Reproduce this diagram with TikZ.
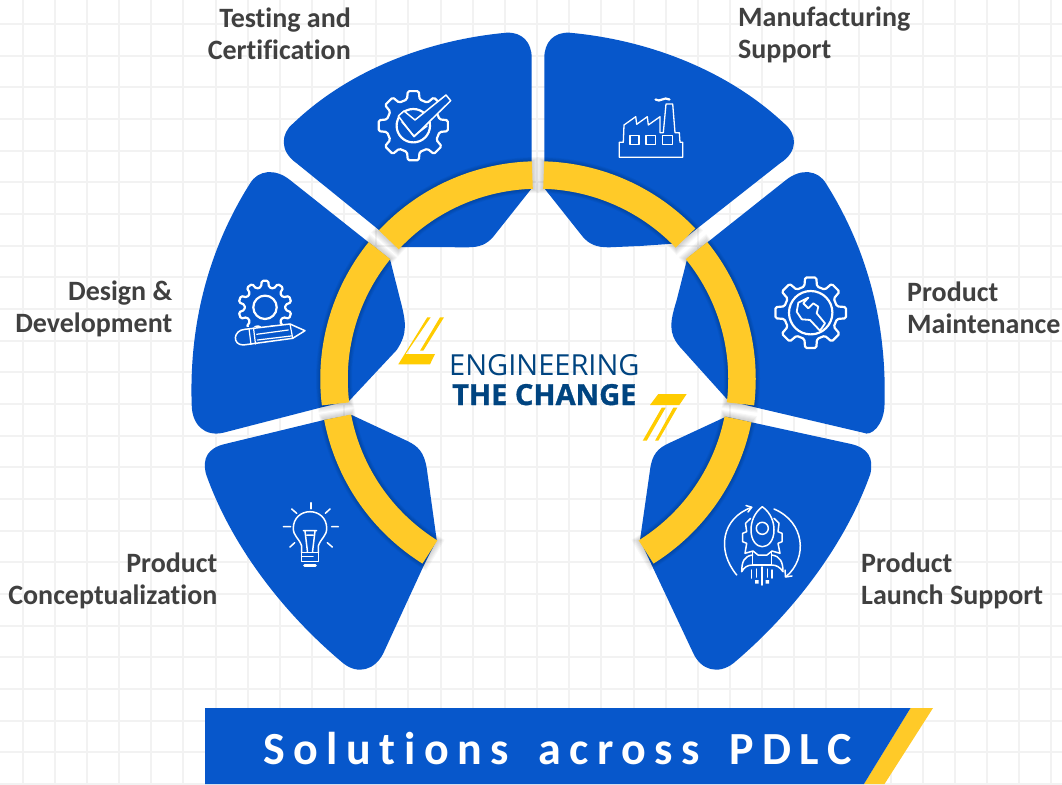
\documentclass[tikz,border=0pt]{standalone}
\usepackage{fontspec}
\setmainfont[Ligatures=NoCommon]{Carlito}
\newfontfamily\logofont{Open Sans}
\newfontfamily\logobold[FakeBold=1.1]{Open Sans Bold}
\newfontfamily\titlefont[LetterSpace=18.5,WordSpace=1.55,Ligatures=NoCommon]{Carlito Bold}
\definecolor{pdlcblue}{HTML}{0757CB}
\definecolor{ringyellow}{HTML}{FFCA28}
\definecolor{logoyellow}{HTML}{FFCC00}
\definecolor{logonavy}{HTML}{004480}
\definecolor{labelgray}{HTML}{404040}
\definecolor{gridgray}{HTML}{F2F2F2}
\newcommand{\ringshadow}[2]{%
  \foreach \w/\e in {36/1.8,34.5/1.5,33/1.2,31.5/0.9,30/0.6,28.5/0.3}{%
    \draw[black,opacity=0.03,line width=\w pt] plot[domain=#1-\e:#2+\e,samples=40] ({204*cos(\x)},{204*sin(\x)});}}
\newcommand{\ringseg}[2]{%
  \draw[ringyellow,line width=27.5pt] plot[domain=#1:#2,samples=40] ({204*cos(\x)},{204*sin(\x)});}
\newcommand{\geardraw}[4]{% teeth, outer r, inner r, start angle
  \pgfmathsetmacro{\gs}{360/#1}
  \draw[iconthick,rounded corners=1.5pt] ({#4-0.30*\gs}:#3) \foreach \i in {1,...,#1}{
    -- ({#4+(\i-1)*\gs-0.2*\gs}:#2) -- ({#4+(\i-1)*\gs+0.2*\gs}:#2) -- ({#4+(\i-1)*\gs+0.30*\gs}:#3) -- ({#4+(\i-1)*\gs+0.70*\gs}:#3)
  } -- cycle;}
\tikzset{
  lobe/.style={fill=pdlcblue,draw=none},
  icon/.style={draw=white,line width=1.5pt,line join=round,line cap=round},
  iconthick/.style={draw=white,line width=2.2pt,line join=round,line cap=round},
  lab/.style={font=\fontsize{28}{32}\selectfont\bfseries,text=labelgray,inner sep=0pt},
}
\begin{document}
\begin{tikzpicture}[x=1pt,y=-1pt]
\useasboundingbox (0,0) rectangle (1062,784);
\fill[white] (0,0) rectangle (1062,784);
% grid
\foreach \k in {-9,...,23} \draw[gridgray,line width=2pt] ({312+32.15*\k},0) -- ({312+32.15*\k},784);
\foreach \k in {-10,...,14} \draw[gridgray,line width=2pt] (0,{340.7+31.67*\k}) -- (1062,{340.7+31.67*\k});
% lobes
% Testing
\path[lobe] (531.7,188.3) -- (531.7,58) .. controls (531.7,42) and (522,32) .. (506.7,32.7)
  .. controls (429,39.7) and (349.5,69.5) .. (293.3,123.3)
  .. controls (281,133) and (279,151) .. (296.7,163.3) -- (400,247) -- (466.7,247.3)
  .. controls (480,247.5) and (487,244) .. (493.3,236.7) -- cycle;
% Manufacturing
\path[lobe] (544.3,188.3) -- (544.3,58) .. controls (544.3,42) and (554,32) .. (569.3,32.7)
  .. controls (647,39.7) and (726.5,69.5) .. (784,123.3)
  .. controls (797,134) and (799,151) .. (780,163.3) -- (678.3,243.3) -- (640,246)
  -- (609.3,247.3) .. controls (596,247.5) and (589,244) .. (582.7,236.7) -- cycle;
% Design
\path[lobe] (290,180) -- (390,259.3) -- (400.3,300)
  .. controls (406,322) and (408,333) .. (396.7,350) -- (349.3,400.7) -- (321.7,407.3) -- (223.3,432.7)
  .. controls (205,437) and (192,425) .. (191.7,405)
  .. controls (189,325) and (208,250) .. (250,183.5)
  .. controls (258,170) and (275,168) .. (290,180) -- cycle;
% Maintenance
\path[lobe] (786,180) -- (687.3,258.3) -- (676.7,300)
  .. controls (670,322) and (668,333) .. (680,347) -- (728.3,400.7) -- (755,407.3) -- (863.3,432.7)
  .. controls (871,437) and (884,425) .. (884.5,405)
  .. controls (887,325) and (868,250) .. (826,183.5)
  .. controls (818,170) and (801,168) .. (786,180) -- cycle;
% Conceptualization
\path[lobe] (351.7,415) -- (406.7,440.7) .. controls (418,446) and (424,452) .. (426.7,468)
  -- (436.7,540) -- (424,565) -- (383.3,653.3)
  .. controls (375,670) and (358,675) .. (343.3,663.3)
  .. controls (283,613) and (231,545) .. (206,474)
  .. controls (202,458) and (208,448) .. (225,444) -- (324,420) -- cycle;
% Launch
\path[lobe] (726,416.7) -- (670,442.7) .. controls (658,448) and (652,454) .. (650,470)
  -- (640,540) -- (651.7,565) -- (693.3,653.3)
  .. controls (701,670) and (718,675) .. (733.3,663.3)
  .. controls (793,613) and (845,545) .. (870.3,474)
  .. controls (874,458) and (868,448) .. (851,444) -- (753.3,422.7) -- cycle;
% ring
\begin{scope}[shift={(538,379)}]
\ringshadow{-187}{-141}
\ringshadow{-39}{7}
\ringshadow{122}{169.2}
\ringshadow{11.4}{58}
\ringshadow{-137}{-91.6}
\ringshadow{-88.4}{-43.7}
\ringseg{-187}{-141}
\ringseg{-39}{7}
\ringseg{122}{169.2}
\ringseg{11.4}{58}
\ringseg{-137}{-91.6}
\ringseg{-88.4}{-43.7}
\end{scope}
% Icon: testing
\begin{scope}[shift={(413.3,125.7)}]
\geardraw{8}{35}{27}{-90}
\draw[iconthick] (0,0) circle (16.7);
\end{scope}
\path[lobe] (398.3,116) -- (404,111) -- (415,120) -- (446,95) -- (450.7,100.7) -- (414,136.7) -- cycle;
\draw[icon] (398.3,116) -- (404,111) -- (415,120) -- (446,95) -- (450.7,100.7) -- (414,136.7) -- cycle;
\draw[icon] (402,122) -- (414,136) -- (427,126);
% Icon: factory
\draw[icon,line width=1.3pt] (619.3,157.3) -- (682.7,157.3) -- (682.7,142.3) -- (680,142.3) -- (679.3,132.7) -- (675,132.7) -- (672.7,104) -- (666,104) -- (663.3,132.7) -- (660,132.7) -- (660,116.7) -- (648.3,125) -- (647.3,116.7) -- (636.7,124.3) -- (635.7,116.7) -- (624,125) -- (623.3,142.3) -- (619.3,142.3) -- cycle;
\draw[icon,line width=1.3pt] (630,135.7) rectangle (639,144.3) (646,135.7) rectangle (655.7,144.3) (662.3,135.7) rectangle (672.3,144.3);
\draw[iconthick] (655.5,99.5) .. controls (660,103) and (664,96) .. (669.5,99.5);
% Icon: design gear and pencil
\begin{scope}
\clip (225,265) rectangle (310,326);
\begin{scope}[shift={(265,307.3)}]
\geardraw{10}{26.7}{20.5}{-90}
\draw[iconthick] (0,0) circle (11.7);
\end{scope}
\end{scope}
\draw[icon,fill=pdlcblue] (245,329.3) -- (290,324) -- (305,330.7) -- (292.7,338.3) -- (243.3,345) .. controls (232,345) and (233,330) .. (245,329.3) -- cycle;
\draw[icon,line width=1.2pt] (249,328.5) -- (251,344.5) (253.5,328) -- (255.5,344) (256.7,334.3) -- (288.3,330) (257.5,340) -- (291,336) (290,324) -- (292.7,338.3);
% Icon: wrench gear
\begin{scope}[shift={(810.7,312.7)}]
\geardraw{8}{35.7}{27}{-90}
\draw[iconthick] (0,0) circle (21.7);
\end{scope}
\draw[iconthick,line width=1.8pt] (808.3,297.7) -- (803.3,303.3) -- (808.3,308.3) -- (813.3,303.3) -- (818.3,306.7) -- (816.7,313.3) -- (825,323.3) -- (820,330.7) -- (810,320) -- (801.7,319.3) -- (796.7,311.7) -- (798.3,302.7) -- cycle;
% Icon: bulb
\draw[icon] (301.7,552.7) -- (301.7,546) .. controls (299,538) and (293.3,536) .. (293.3,528.3)
  .. controls (293.3,518) and (301,511.7) .. (310,511.7) .. controls (319,511.7) and (326.7,518) .. (326.7,528.3)
  .. controls (326.7,536) and (321,538) .. (318.3,546) -- (318.3,552.7);
\draw[icon] (301.7,552.7) -- (301.7,561.7) -- (318.3,561.7) -- (318.3,552.7) -- cycle (301.7,556.5) -- (313,556.5);
\draw[iconthick,line width=2.6pt] (304.5,565.7) -- (315.5,565.7);
\draw[icon] (303.3,530.7) -- (316.7,530.7) (305,531) -- (307.5,552) (315,531) -- (312.5,552) (307,535) -- (313,535);
\draw[iconthick] (311,503) -- (311,508.5);
\draw[icon] (283.3,526.7) -- (290.7,526.7) (331.7,526.7) -- (338.3,526.7) (291.7,509) -- (296.7,513.3) (330,509) -- (325.3,513.3) (290,547) -- (294.7,542.7) (332.3,547) -- (327.3,542.7);
% Icon: rocket
\draw[icon] (736.7,575) .. controls (716,550) and (722,518) .. (751.7,507.3);
\draw[icon] (746,505.5) -- (751.7,507.3) -- (748,512);
\draw[icon] (774,509) .. controls (805,522) and (808,558) .. (786,576.7);
\draw[icon] (785,570) -- (785.5,577) -- (792,576);
\draw[icon] (762.3,506.7) .. controls (754,513) and (751,522) .. (751,530) .. controls (751,541) and (757,546.7) .. (762.3,546.7)
  .. controls (768,546.7) and (774,541) .. (774,530) .. controls (774,522) and (771,513) .. (762.3,506.7) -- cycle;
\draw[icon] (762.3,528.3) circle (6);
\draw[icon] (750.7,518.3) -- (745.5,523.3) -- (746.7,531.7) -- (742.7,533.3) -- (742.7,541.7) -- (746.7,543.3) -- (745,553.3) -- (753,551) -- (758,555) -- (767,555) -- (772,551) -- (780,553.3) -- (778,543.3) -- (782,541.7) -- (782,533.3) -- (778,531.7) -- (779,523.3) -- (774,518.3);
\draw[icon] (752.7,551.7) -- (752.7,565) -- (771.7,565) -- (771.7,551.7);
\draw[icon] (741.7,571.7) .. controls (741.7,562) and (744,556) .. (752.7,555) (741.7,571.7) .. controls (744,567) and (748,565) .. (752.7,565);
\draw[icon] (783,571.7) .. controls (783,562) and (780,556) .. (771.7,555) (783,571.7) .. controls (780,567) and (776,565) .. (771.7,565);
\draw[icon] (751.7,570) -- (751.7,578) (756.5,569) -- (756.5,577) (767.5,569) -- (767.5,577) (772,570) -- (772,578) (762,567) -- (762,585);
\fill[white] (755,580) rectangle (758.5,583.5) (765.5,580) rectangle (769,583.5);
% logo marks
\fill[logoyellow] (398.3,364.3) -- (427.3,317.3) -- (430.7,317.3) -- (405.7,354) -- (435,354) -- (430,364.3) -- cycle;
\fill[logoyellow] (420,350.7) -- (440,317.3) -- (444,317.3) -- (423.3,350.7) -- cycle;
\fill[logoyellow] (650,405) -- (658.3,394) -- (686.7,394) -- (679.3,405) -- cycle;
\fill[logoyellow] (642.7,440.7) -- (661.7,407.7) -- (665.7,407.7) -- (646.7,440.7) -- cycle;
\fill[logoyellow] (655,440.7) -- (673.3,407.7) -- (677.3,407.7) -- (658.3,440.7) -- cycle;
% logo text
\node[anchor=base west,inner sep=0pt,text=logonavy,font=\logofont\fontsize{29}{29}\selectfont] (logotop) at (449,375.5) {ENGINEERING};
\node[anchor=base west,inner sep=0pt,text=logonavy,font=\logobold\fontsize{29}{29}\selectfont] (logobot) at (452,405) {THE CHANGE};
% labels
\node[lab,anchor=east,align=right] (testing) at (351,34) {Testing and\\Certification};
\node[lab,anchor=west,align=left] (manufacturing) at (738,35) {Manufacturing\\Support};
\node[lab,anchor=east,align=right] (design) at (172.5,309) {Design \&\\Development};
\node[lab,anchor=west,align=left] (maintenance) at (907,308) {Product\\Maintenance};
\node[lab,anchor=east,align=right] (concept) at (217.5,581) {Product\\Conceptualization};
\node[lab,anchor=west,align=left] (launch) at (861,581) {Product\\Launch Support};
% banner
\fill[ringyellow] (910.5,708) -- (933,708) -- (884.5,784) -- (863.9,784) -- cycle;
\fill[pdlcblue] (205.2,708) -- (910.5,708) -- (863.9,784) -- (205.2,784) -- cycle;
\node[anchor=base west,inner sep=0pt,text=white,font=\titlefont\fontsize{46}{46}\selectfont] (title) at (263,764) {Solutions across PDLC};
\end{tikzpicture}
\end{document}
